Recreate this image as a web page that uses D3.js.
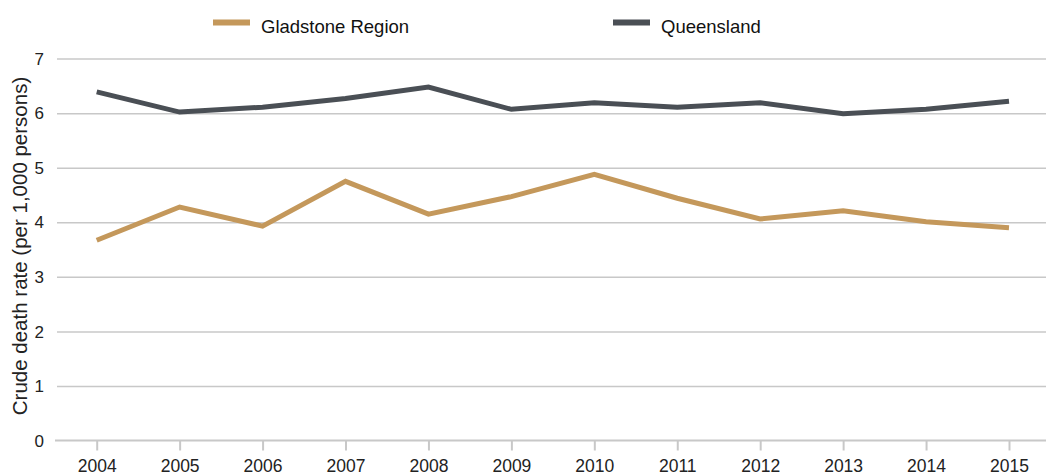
<!DOCTYPE html>
<html>
<head>
<meta charset="utf-8">
<script src="https://cdn.jsdelivr.net/npm/d3@7"></script>
<style>
  html, body { margin: 0; padding: 0; background: #fff; }
  svg { display: block; font-family: "Liberation Sans", Arial, sans-serif; }
</style>
</head>
<body>
<svg id="chart" width="1046" height="475"></svg>
<script>
const years = ["2004","2005","2006","2007","2008","2009","2010","2011","2012","2013","2014","2015"];
const gladstone = [3.67, 4.28, 3.93, 4.75, 4.15, 4.47, 4.88, 4.44, 4.06, 4.21, 4.01, 3.90];
const queensland = [6.39, 6.02, 6.11, 6.27, 6.48, 6.07, 6.19, 6.11, 6.19, 5.99, 6.07, 6.22];
const yTicks = [0, 1, 2, 3, 4, 5, 6, 7];
const seriesNames = ["Gladstone Region", "Queensland"];
const seriesColors = ["#C4985B", "#4A4F55"];

const svg = d3.select("#chart");
const x = d3.scalePoint().domain(years).range([96.7, 1009]);
const y = d3.scaleLinear().domain([0, 7]).range([440.5, 58.6]);

// gridlines
const grid = svg.append("g").attr("transform", "translate(57,0)")
  .call(d3.axisLeft(y).tickValues(yTicks.filter(d => d > 0)).tickSize(-(1046 - 57)).tickFormat(""));
grid.select(".domain").remove();
grid.selectAll(".tick line").attr("stroke", "#C8C8C8").attr("stroke-width", 1.5);

// y tick labels
svg.append("g").selectAll("text").data(yTicks).join("text")
  .attr("x", 44).attr("y", d => y(d)).attr("dy", "0.36em")
  .attr("text-anchor", "end").attr("font-size", 17).attr("fill", "#222")
  .text(d => d);

// x axis
const xAxis = svg.append("g").attr("transform", `translate(0,${y(0)})`)
  .call(d3.axisBottom(x).tickSize(10).tickPadding(0));
xAxis.select(".domain").remove();
xAxis.selectAll(".tick line").attr("stroke", "#C8C8C8").attr("stroke-width", 2);
xAxis.selectAll(".tick text").attr("font-size", 17.5).attr("fill", "#222")
  .attr("font-family", "'Liberation Sans', Arial, sans-serif")
  .attr("dy", null).attr("y", 31);
svg.append("line").attr("x1", 55).attr("x2", 1046).attr("y1", y(0)).attr("y2", y(0))
  .attr("stroke", "#C8C8C8").attr("stroke-width", 2.2);

// lines
const line = d3.line().x((d, i) => x(years[i])).y(d => y(d));
[gladstone, queensland].forEach((s, k) => {
  svg.append("path").datum(s).attr("d", line)
    .attr("fill", "none").attr("stroke", seriesColors[k])
    .attr("stroke-width", 5).attr("stroke-linejoin", "miter");
});

// legend
const legendX = [213, 613];
seriesNames.forEach((n, k) => {
  svg.append("rect").attr("x", legendX[k]).attr("y", 19.5).attr("width", 37).attr("height", 6)
    .attr("fill", seriesColors[k]);
  svg.append("text").attr("x", legendX[k] + 48).attr("y", 33)
    .attr("font-size", 18.5).attr("fill", "#111").text(n);
});

// y-axis title
svg.append("text")
  .attr("transform", `translate(27,246) rotate(-90)`)
  .attr("text-anchor", "middle").attr("font-size", 20.5).attr("fill", "#222")
  .text("Crude death rate (per 1,000 persons)");
</script>
</body>
</html>
